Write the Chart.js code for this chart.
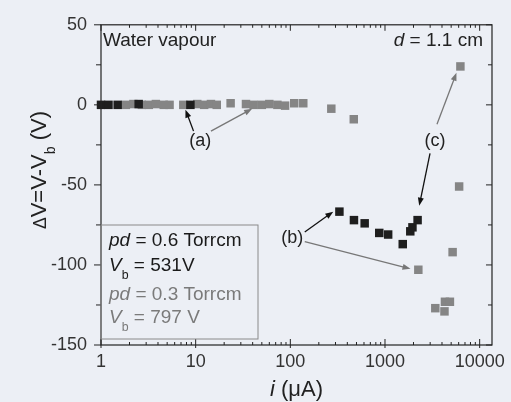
<!DOCTYPE html>
<html>
<head>
<meta charset="utf-8">
<script src="https://cdn.jsdelivr.net/npm/chart.js@4/dist/chart.umd.min.js"></script>
<style>
  html, body { margin: 0; padding: 0; background: #eceff5; }
  #wrap { width: 511px; height: 402px; }
</style>
</head>
<body>
<div id="wrap"><canvas id="chart"></canvas></div>
<script>
// pd = 0.6 Torrcm (black squares)
const currentHigh = [1.0, 1.2, 1.5, 2.5, 8.8, 330, 470, 610, 870, 1080, 1540, 1850, 1950, 2210];
const deltaVHigh = [0, 0, 0, 0.5, 0, -66.7, -72, -74, -80, -81, -87, -79, -76.5, -72];

// pd = 0.3 Torrcm (gray squares)
const currentLow = [1.83, 2.2, 2.7, 3.2, 3.8, 4.6, 5.3, 7.4, 10.4, 12.3, 14.5, 16.7, 23.4, 34, 41, 50, 60, 73, 88,
    110, 137, 271, 468, 2250, 3400, 4250, 4300, 4850, 5180, 6070, 6260];
const deltaVLow = [0, 0.5, 0, 0, 0.5, 0, 0, 0, 0.5, 0, 0.5, 0, 1, 0.5, 0, 0, 0.5, 0, -0.5,
    1, 1, -2.4, -9, -103, -127, -129, -123, -123, -92, -51, 24];

// axis ticks
const xTickValues = [1, 10, 100, 1000, 10000];
const xTickLabels = ["1", "10", "100", "1000", "10000"];
const yTickValues = [50, 0, -50, -100, -150];
const yTickLabels = ["50", "0", "-50", "-100", "-150"];

const FONT = '"Liberation Sans", Arial, sans-serif';

// arrows (data coordinates)
const arrows = [
    { from: [9.5, -16.4], to: [7.8, -3], color: "#111" },
    { from: [14.5, -16.4], to: [39.5, -2.4], color: "#777" },
    { from: [142, -79.4], to: [284, -66.7], color: "#111" },
    { from: [142, -85.4], to: [1860, -102.4], color: "#777" },
    { from: [2990, -30.3], to: [2300, -63], color: "#111" },
    { from: [3540, -12.1], to: [5690, 20], color: "#777" },
];
const arrowLabels = [
    { text: "(a)", at: [11.2, -22.4] },
    { text: "(b)", at: [105, -83] },
    { text: "(c)", at: [3370, -22.4] },
];

function toPoints(xs, ys) {
    return xs.map((x, i) => ({ x: x, y: ys[i] }));
}

function line(ctx, x1, y1, x2, y2) {
    ctx.beginPath();
    ctx.moveTo(x1, y1);
    ctx.lineTo(x2, y2);
    ctx.stroke();
}

// text with italic / subscript parts
function partFont(p, size) {
    const s = p.sub ? size * 0.65 : size * (p.scale || 1);
    return (p.italic ? "italic " : "") + s + "px " + FONT;
}

function richWidth(ctx, parts, size) {
    let w = 0;
    for (const p of parts) {
        ctx.font = partFont(p, size);
        w += ctx.measureText(p.t).width;
    }
    return w;
}

function drawRich(ctx, x, y, parts, size) {
    for (const p of parts) {
        ctx.font = partFont(p, size);
        ctx.fillText(p.t, x, y + (p.sub ? size * 0.4 : 0));
        x += ctx.measureText(p.t).width;
    }
    return x;
}

const decorations = {
    id: "decorations",
    afterDatasetsDraw(chart) {
        const ctx = chart.ctx;
        const a = chart.chartArea;
        const xs = chart.scales.x;
        const ys = chart.scales.y;
        ctx.save();

        // frame
        ctx.strokeStyle = "#222";
        ctx.lineWidth = 1.2;
        ctx.strokeRect(a.left, a.top, a.right - a.left, a.bottom - a.top);

        // log ticks, bottom and top
        ctx.lineWidth = 1;
        for (let d = 1; d <= 10000; d *= 10) {
            for (let m = 1; m < 10; m++) {
                const v = d * m;
                if (v > xs.max) break;
                const px = xs.getPixelForValue(v);
                const len = m === 1 ? 6 : 3;
                line(ctx, px, a.bottom + (m === 1 ? 3 : 0), px, a.bottom - len);
                line(ctx, px, a.top, px, a.top + len);
            }
        }
        // y ticks every 25
        for (let v = -150; v <= 50; v += 25) {
            const py = ys.getPixelForValue(v);
            const major = v % 50 === 0;
            line(ctx, a.left - (major ? 7 : 5), py, a.left, py);
            line(ctx, a.right, py, a.right - (major ? 6 : 4), py);
        }

        // arrows
        for (const ar of arrows) {
            const x1 = xs.getPixelForValue(ar.from[0]), y1 = ys.getPixelForValue(ar.from[1]);
            const x2 = xs.getPixelForValue(ar.to[0]), y2 = ys.getPixelForValue(ar.to[1]);
            const ang = Math.atan2(y2 - y1, x2 - x1);
            ctx.strokeStyle = ar.color;
            ctx.fillStyle = ar.color;
            ctx.lineWidth = 1.3;
            line(ctx, x1, y1, x2 - 5 * Math.cos(ang), y2 - 5 * Math.sin(ang));
            ctx.beginPath();
            ctx.moveTo(x2, y2);
            ctx.lineTo(x2 - 8 * Math.cos(ang) + 3 * Math.sin(ang), y2 - 8 * Math.sin(ang) - 3 * Math.cos(ang));
            ctx.lineTo(x2 - 8 * Math.cos(ang) - 3 * Math.sin(ang), y2 - 8 * Math.sin(ang) + 3 * Math.cos(ang));
            ctx.closePath();
            ctx.fill();
        }
        ctx.fillStyle = "#222";
        ctx.font = "18px " + FONT;
        ctx.textAlign = "center";
        ctx.textBaseline = "middle";
        for (const lb of arrowLabels) {
            ctx.fillText(lb.text, xs.getPixelForValue(lb.at[0]), ys.getPixelForValue(lb.at[1]));
        }

        // corner texts
        ctx.textAlign = "left";
        ctx.textBaseline = "alphabetic";
        ctx.font = "19px " + FONT;
        ctx.fillText("Water vapour", a.left + 2, a.top + 21);
        const dParts = [{ t: "d", italic: true }, { t: " = 1.1 cm" }];
        drawRich(ctx, a.right - 9 - richWidth(ctx, dParts, 19), a.top + 21, dParts, 19);

        // legend box
        const bx = a.left, by = a.bottom - 120, bw = 157, bh = 114;
        ctx.strokeStyle = "#8a8a8a";
        ctx.lineWidth = 1;
        ctx.strokeRect(bx, by, bw, bh);
        ctx.fillStyle = "#1a1a1a";
        drawRich(ctx, bx + 8, by + 21, [{ t: "pd", italic: true }, { t: " = 0.6 Torrcm" }], 19);
        drawRich(ctx, bx + 8, by + 46, [{ t: "V", italic: true }, { t: "b", sub: true }, { t: " = 531V" }], 19);
        ctx.fillStyle = "#7a7a7a";
        drawRich(ctx, bx + 8, by + 75, [{ t: "pd", italic: true }, { t: " = 0.3 Torrcm" }], 19);
        drawRich(ctx, bx + 8, by + 98, [{ t: "V", italic: true }, { t: "b", sub: true }, { t: " = 797 V" }], 19);

        // axis titles
        ctx.fillStyle = "#222";
        const xt = [{ t: "i", italic: true }, { t: " (\u03bcA)" }];
        drawRich(ctx, (a.left + a.right) / 2 - richWidth(ctx, xt, 22) / 2, 396, xt, 22);
        const yt = [{ t: "\u0394", scale: 0.8 }, { t: "V=V-V" }, { t: "b", sub: true }, { t: " (V)" }];
        ctx.translate(46, 170);
        ctx.rotate(-Math.PI / 2);
        drawRich(ctx, -richWidth(ctx, yt, 22) / 2, 0, yt, 22);

        ctx.restore();
    },
};

new Chart(document.getElementById("chart"), {
    type: "scatter",
    data: {
        datasets: [
            {
                label: "pd = 0.6 Torrcm",
                data: toPoints(currentHigh, deltaVHigh),
                pointStyle: "rect",
                pointRadius: 6,
                backgroundColor: "#1e1e1e",
                borderColor: "#1e1e1e",
                borderWidth: 0,
                clip: false,
            },
            {
                label: "pd = 0.3 Torrcm",
                data: toPoints(currentLow, deltaVLow),
                pointStyle: "rect",
                pointRadius: 6,
                backgroundColor: "#858585",
                borderColor: "#858585",
                borderWidth: 0,
                clip: false,
            },
        ],
    },
    options: {
        responsive: true,
        maintainAspectRatio: false,
        animation: false,
        layout: { padding: { top: 18, right: 10, left: 0, bottom: 0 } },
        plugins: { legend: { display: false }, tooltip: { enabled: false } },
        scales: {
            x: {
                type: "logarithmic",
                min: 1,
                max: 13500,
                afterBuildTicks: (s) => { s.ticks = xTickValues.map((v) => ({ value: v })); },
                afterFit: (s) => { s.height = 57; },
                grid: { display: false, drawTicks: false },
                border: { display: false },
                ticks: {
                    autoSkip: false,
                    maxRotation: 0,
                    padding: 6,
                    color: "#333",
                    font: { size: 18, family: FONT },
                    callback: (v, i) => xTickLabels[i],
                },
            },
            y: {
                min: -150,
                max: 50,
                afterBuildTicks: (s) => { s.ticks = yTickValues.map((v) => ({ value: v })); },
                afterFit: (s) => { s.width = 101; },
                grid: { display: false, drawTicks: false },
                border: { display: false },
                ticks: {
                    padding: 14,
                    color: "#333",
                    font: { size: 18, family: FONT },
                    callback: (v, i) => yTickLabels[i],
                },
            },
        },
    },
    plugins: [decorations],
});
</script>
</body>
</html>
